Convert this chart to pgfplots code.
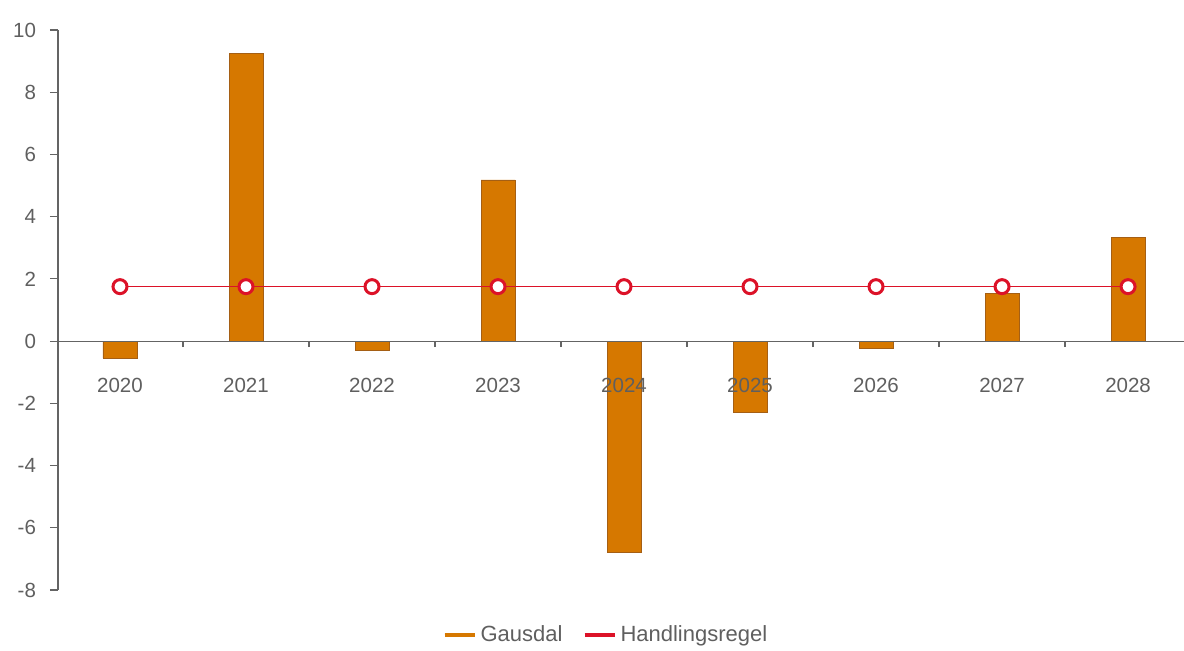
\documentclass[border=0pt]{standalone}
\usepackage{pgfplots}
\pgfplotsset{compat=1.18}
\usepackage{fontspec}
\setmainfont{Liberation Sans}
\definecolor{barfill}{RGB}{214,120,0}
\definecolor{baredge}{RGB}{165,95,20}
\definecolor{rulered}{RGB}{220,18,40}
\definecolor{tickgray}{RGB}{95,95,95}
\definecolor{axisgray}{RGB}{100,100,100}
\begin{document}
\begin{tikzpicture}
\begin{axis}[
  scale only axis, width=563pt, height=280pt,
  xmin=-0.492, xmax=8.444, ymin=-8, ymax=10,
  axis on top,
  axis y line*=left, axis x line*=middle,
  axis line style={axisgray, line width=0.6pt, -},
  tick align=outside,
  xtick={0,...,8},
  xticklabels={2020,2021,2022,2023,2024,2025,2026,2027,2028},
  minor xtick={0.5,1.5,...,7.5},
  major x tick style={draw=none},
  minor x tick style={axisgray, line width=0.6pt},
  minor tick length=3pt,
  major tick length=4pt,
  ytick={-8,-6,...,10},
  y tick style={axisgray, line width=0.6pt},
  /pgf/number format/assume math mode=true,
  tick label style={font=\fontsize{10.25}{12}\selectfont, text=tickgray},
  xticklabel style={anchor=center, yshift=-18pt},
  yticklabel style={xshift=-3.5pt},
  legend style={draw=none, fill=none, at={(0.4875,-0.08)}, anchor=center,
    font=\fontsize{11}{13}\selectfont, text=tickgray, legend columns=-1,
    /tikz/every even column/.append style={column sep=8pt},
    inner sep=0pt},
  legend cell align=left,
]
\addplot[ybar, bar width=17pt, fill=barfill, draw=baredge, line width=0.4pt,
  legend image code/.code={\draw[barfill, line width=2pt] (0pt,0pt) -- (15pt,0pt);}]
  coordinates {(0,-0.55) (1,9.26) (2,-0.29) (3,5.18) (4,-6.78) (5,-2.28) (6,-0.22) (7,1.54) (8,3.34)};
\addlegendentry{Gausdal}
\addplot[rulered, line width=0.8pt, mark=*, mark size=3.5pt,
  mark options={fill=white, draw=rulered, line width=1.5pt},
  legend image code/.code={\draw[rulered, line width=2pt] (0pt,0pt) -- (15pt,0pt);}]
  coordinates {(0,1.75) (1,1.75) (2,1.75) (3,1.75) (4,1.75) (5,1.75) (6,1.75) (7,1.75) (8,1.75)};
\addlegendentry{Handlingsregel}
\end{axis}
\pgfresetboundingbox
\path[use as bounding box] (-29pt,-30.5pt) rectangle (563pt,295pt);
\end{tikzpicture}
\end{document}
